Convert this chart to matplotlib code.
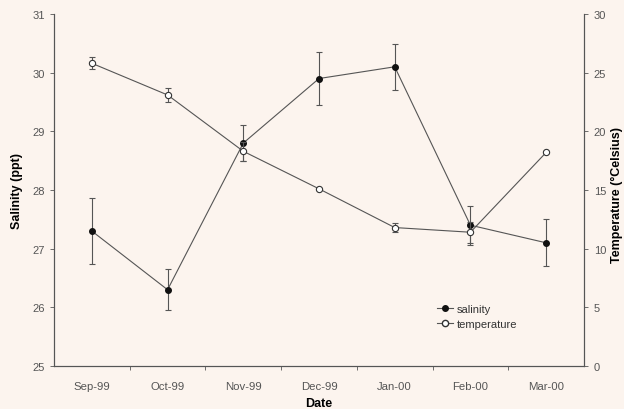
import matplotlib
matplotlib.use("Agg")
import matplotlib.pyplot as plt
from matplotlib.lines import Line2D

plt.rcParams['font.family'] = ['Liberation Sans', 'DejaVu Sans']

dates = ["Sep-99", "Oct-99", "Nov-99", "Dec-99", "Jan-00", "Feb-00", "Mar-00"]
salinity = [27.3, 26.3, 28.8, 29.9, 30.1, 27.4, 27.1]
salinity_err = [0.56, 0.35, 0.3, 0.45, 0.39, 0.33, 0.4]
temperature = [25.8, 23.1, 18.3, 15.1, 11.8, 11.4, 18.2]
temperature_err = [0.5, 0.6, 0.8, 0.0, 0.4, 0.9, 0.0]

bg = '#fcf4ee'
lc = '#555555'
tc = '#555555'

fig = plt.figure(figsize=(6.24, 4.10), dpi=100, facecolor=bg)
ax = fig.add_axes([54/624, 1-367/410, (584-54)/624, (367-15)/410])
ax.set_facecolor(bg)
x = list(range(len(dates)))

ax.errorbar(x, salinity, yerr=salinity_err, color=lc, lw=0.8, marker='o', ms=4,
            mfc='#111111', mec='#111111', ecolor=lc, elinewidth=0.8, capsize=2.5,
            capthick=0.8, zorder=3)
ax2 = ax.twinx()
ax2.errorbar(x, temperature, yerr=temperature_err, color=lc, lw=0.8, marker='o', ms=4.5,
             mfc='white', mec='#333333', mew=0.8, ecolor=lc, elinewidth=0.8, capsize=2.5,
             capthick=0.8, zorder=3)

ax.set_xlim(-0.5, len(dates) - 0.5)
ax.set_ylim(25, 31)
ax2.set_ylim(0, 30)
ax.set_yticks(range(25, 32))
ax2.set_yticks(range(0, 31, 5))
ax.set_xticks(x)
ax.set_xticklabels(dates)
ax.set_xticks([i + 0.5 for i in range(len(dates) - 1)], minor=True)
ax.tick_params(axis='x', which='major', length=0, pad=11, labelsize=8.2, labelcolor=tc)
ax.tick_params(axis='x', which='minor', length=3, direction='out', color=lc, width=0.6)
ax.tick_params(axis='y', length=3, width=0.6, color=lc, labelsize=8, labelcolor=tc, pad=3.5)
ax2.tick_params(axis='y', length=3, width=0.6, color=lc, labelsize=8, labelcolor=tc, pad=4)

for a in (ax, ax2):
    a.spines['top'].set_visible(False)
    for s in ('left', 'right', 'bottom'):
        a.spines[s].set_color(lc)
        a.spines[s].set_linewidth(0.8)

ax.set_ylabel("Salinity (ppt)", fontsize=9, fontweight='bold')
ax.yaxis.label.set_va('center')
ax.yaxis.set_label_coords((17 - 54) / 530, 0.5)
ax2.set_ylabel("Temperature (°Celsius)", fontsize=9, fontweight='bold', rotation=90)
ax2.yaxis.label.set_va('center')
ax2.yaxis.set_label_coords((617 - 54) / 530, 0.49)
ax.set_xlabel("Date", fontsize=9, fontweight='bold')
ax.xaxis.label.set_va('center')
ax.xaxis.set_label_coords(0.5, (367 - 404) / 352)

handles = [
    Line2D([], [], color=lc, lw=0.8, marker='o', ms=4, mfc='#111111', mec='#111111'),
    Line2D([], [], color=lc, lw=0.8, marker='o', ms=4.5, mfc='white', mec='#333333'),
]
leg = ax.legend(handles, ["salinity", "temperature"], loc='center left',
                bbox_to_anchor=(431/624, 1-317.5/410), bbox_transform=fig.transFigure,
                frameon=False, fontsize=8, handlelength=1.5, handletextpad=0.3,
                labelspacing=0.45, borderpad=0, labelcolor='#333333')

fig.savefig("out.png", dpi=100, facecolor=bg)
